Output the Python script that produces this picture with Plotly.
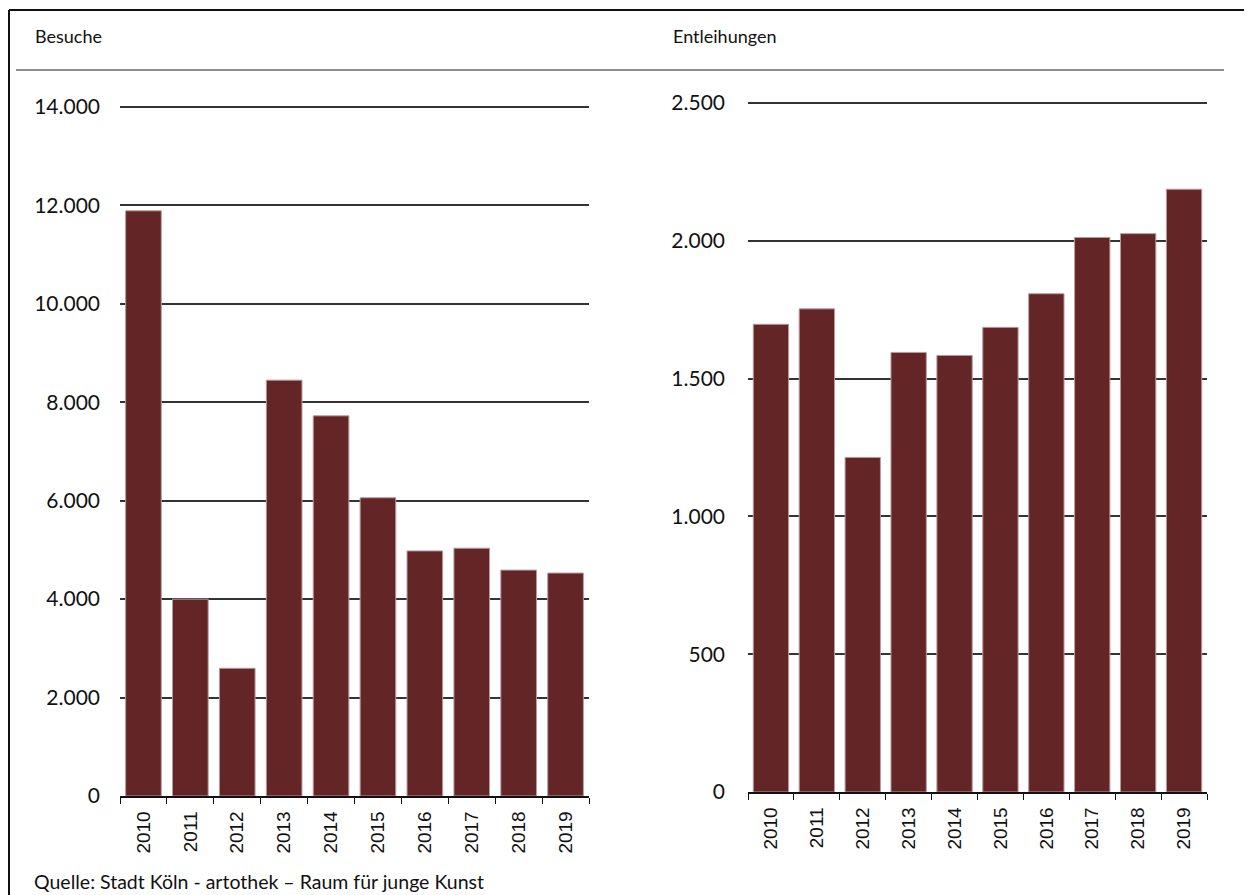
import plotly.graph_objects as go

years = ["2010", "2011", "2012", "2013", "2014", "2015", "2016", "2017", "2018", "2019"]
besuche = [11890, 4000, 2595, 8450, 7725, 6060, 4980, 5035, 4590, 4530]
entleihungen = [1697, 1753, 1214, 1595, 1584, 1686, 1808, 2012, 2026, 2187]

left_ticks = [0, 2000, 4000, 6000, 8000, 10000, 12000, 14000]
left_ticktext = ["0", "2.000", "4.000", "6.000", "8.000", "10.000", "12.000", "14.000"]
right_ticks = [0, 500, 1000, 1500, 2000, 2500]
right_ticktext = ["0", "500", "1.000", "1.500", "2.000", "2.500"]

title_left = "Besuche"
title_right = "Entleihungen"
source = "Quelle: Stadt Köln - artothek – Raum für junge Kunst"

OFF = 8  # page body margin
W, H = 1252 - 2 * OFF, 895 - OFF
BAR = "#632526"
EDGE = "#b79c9c"
FONT = "Lato"

def px(x):
    return (x - OFF) / W

def py(y):
    return 1 - (y - OFF) / H

# headroom (px) above the top gridline so that it is drawn
HEAD = 3
left_max = left_ticks[-1] * (1 + HEAD / (796 - 107))
right_max = right_ticks[-1] * (1 + HEAD / (792 - 103))

fig = go.Figure()
fig.add_trace(go.Bar(x=years, y=besuche, xaxis="x", yaxis="y",
                     marker=dict(color=BAR, line=dict(color=EDGE, width=1)),
                     width=0.76, showlegend=False, hoverinfo="x+y"))
fig.add_trace(go.Bar(x=years, y=entleihungen, xaxis="x2", yaxis="y2",
                     marker=dict(color=BAR, line=dict(color=EDGE, width=1)),
                     width=0.77, showlegend=False, hoverinfo="x+y"))

xcommon = dict(type="category", showline=True, linecolor="#111", linewidth=1.5,
               ticks="outside", tickson="boundaries", ticklen=6, tickwidth=1.3,
               tickcolor="#111", tickangle=-90, showgrid=False, zeroline=False,
               automargin=False, ticklabelstandoff=6,
               tickfont=dict(family="Liberation Sans", size=19, color="#111"))
ycommon = dict(showline=False, zeroline=False, showgrid=True, automargin=False,
               gridcolor="#333", gridwidth=1.5, ticks="",
               tickfont=dict(family=FONT, size=21, color="#111"))

fig.update_layout(
    width=W, height=H, autosize=False,
    margin=dict(l=0, r=0, t=0, b=0, pad=0),
    paper_bgcolor="white", plot_bgcolor="white",
    bargap=0.24,
    xaxis=dict(domain=[px(120), px(589)], anchor="y", **xcommon),
    yaxis=dict(domain=[py(796), py(107 - HEAD)], anchor="x", range=[0, left_max],
               tickvals=left_ticks, ticktext=left_ticktext,
               ticklabelstandoff=19, **ycommon),
    xaxis2=dict(domain=[px(748), px(1207)], anchor="y2", **xcommon),
    yaxis2=dict(domain=[py(792), py(103 - HEAD)], anchor="x2", range=[0, right_max],
                tickvals=right_ticks, ticktext=right_ticktext,
                ticklabelstandoff=22, **ycommon),
    shapes=[
        dict(type="line", xref="paper", yref="paper", x0=px(9), x1=1.0, y0=py(10), y1=py(10),
             line=dict(color="#111", width=2)),
        dict(type="line", xref="paper", yref="paper", x0=px(9), x1=px(9), y0=py(10), y1=0.0,
             line=dict(color="#111", width=2)),
        dict(type="line", xref="paper", yref="paper", x0=px(16), x1=px(1224), y0=py(70), y1=py(70),
             line=dict(color="#666", width=1.5)),
    ],
    annotations=[
        dict(text=title_left, xref="paper", yref="paper", x=px(33), y=py(36),
             xanchor="left", yanchor="middle", showarrow=False,
             font=dict(family=FONT, size=18, color="#111")),
        dict(text=title_right, xref="paper", yref="paper", x=px(671), y=py(36),
             xanchor="left", yanchor="middle", showarrow=False,
             font=dict(family=FONT, size=18, color="#111")),
        dict(text=source, xref="paper", yref="paper", x=px(32), y=py(881),
             xanchor="left", yanchor="middle", showarrow=False,
             font=dict(family=FONT, size=19.5, color="#111")),
    ],
)

fig.write_html("out.html")
